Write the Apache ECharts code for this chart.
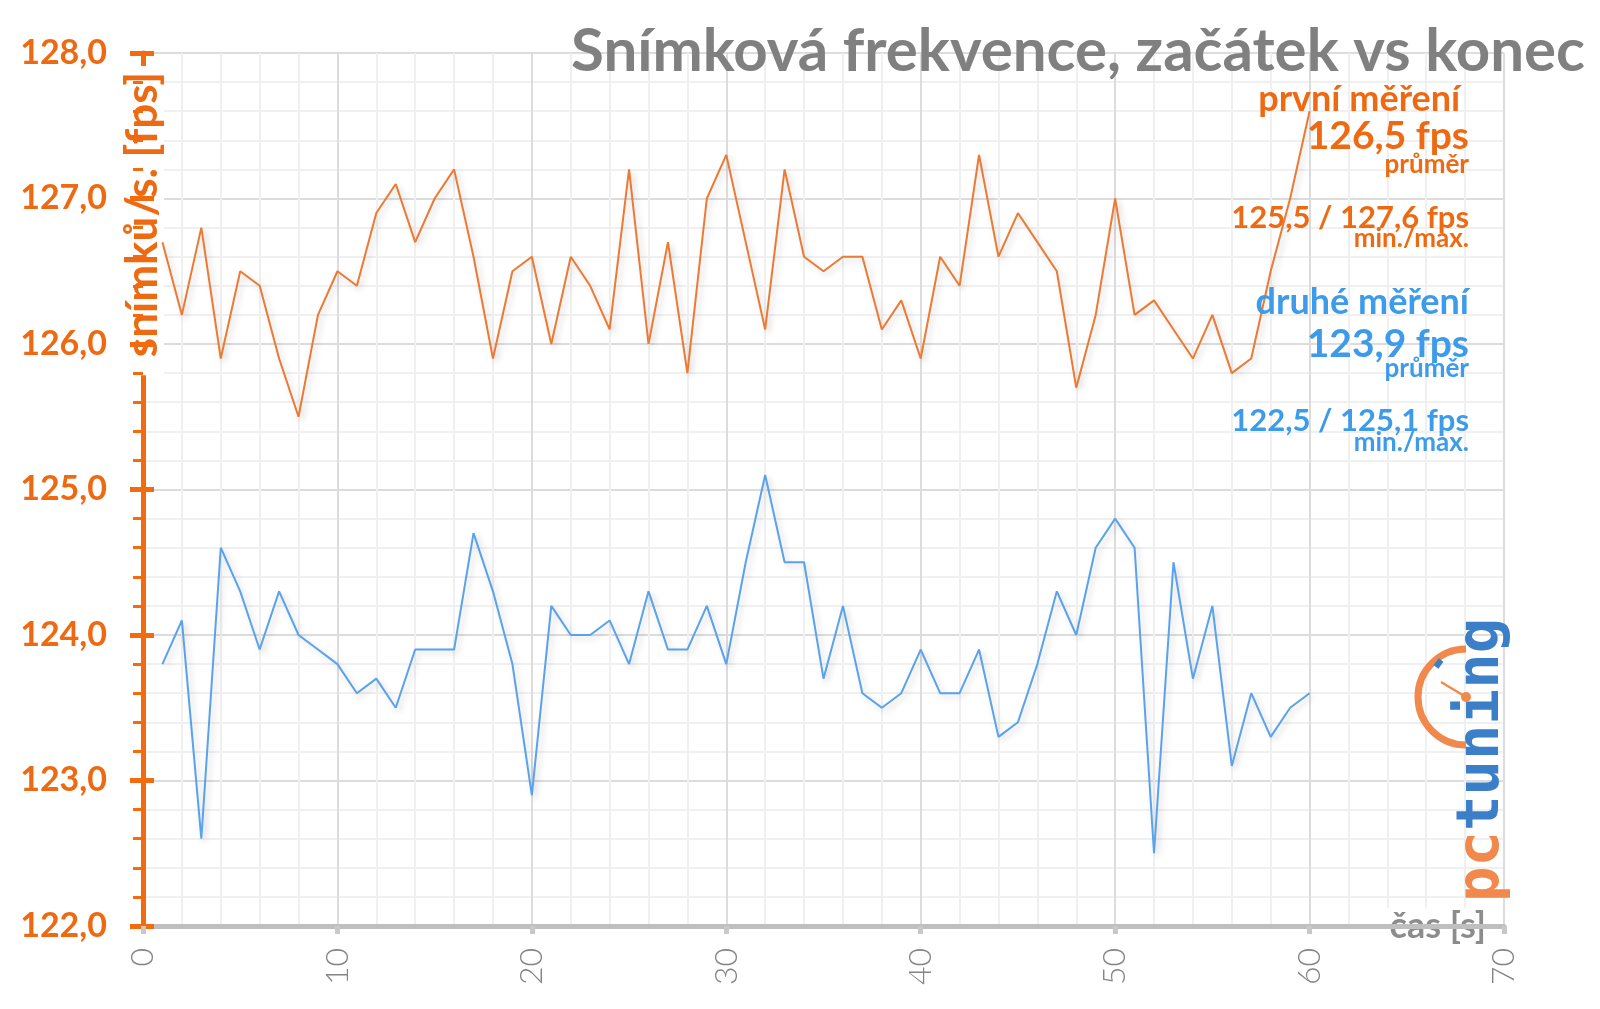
<!DOCTYPE html>
<html>
<head>
<meta charset="utf-8">
<title>Snímková frekvence, začátek vs konec</title>
<script src="https://cdn.jsdelivr.net/npm/echarts@6/dist/echarts.min.js"></script>
<style>
	html, body { margin: 0; padding: 0; background: #ffffff; }
	#chart { width: 1600px; height: 1009px; }
</style>
</head>
<body>
<div id="chart"></div>
<script>
// time in seconds
var seconds = [1, 2, 3, 4, 5, 6, 7, 8, 9, 10,
	11, 12, 13, 14, 15, 16, 17, 18, 19, 20,
	21, 22, 23, 24, 25, 26, 27, 28, 29, 30,
	31, 32, 33, 34, 35, 36, 37, 38, 39, 40,
	41, 42, 43, 44, 45, 46, 47, 48, 49, 50,
	51, 52, 53, 54, 55, 56, 57, 58, 59, 60];

// první měření [fps]
var firstRun = [126.7, 126.2, 126.8, 125.9, 126.5, 126.4, 125.9, 125.5, 126.2, 126.5,
	126.4, 126.9, 127.1, 126.7, 127.0, 127.2, 126.6, 125.9, 126.5, 126.6,
	126.0, 126.6, 126.4, 126.1, 127.2, 126.0, 126.7, 125.8, 127.0, 127.3,
	126.7, 126.1, 127.2, 126.6, 126.5, 126.6, 126.6, 126.1, 126.3, 125.9,
	126.6, 126.4, 127.3, 126.6, 126.9, 126.7, 126.5, 125.7, 126.2, 127.0,
	126.2, 126.3, 126.1, 125.9, 126.2, 125.8, 125.9, 126.5, 127.0, 127.6];

// druhé měření [fps]
var secondRun = [123.8, 124.1, 122.6, 124.6, 124.3, 123.9, 124.3, 124.0, 123.9, 123.8,
	123.6, 123.7, 123.5, 123.9, 123.9, 123.9, 124.7, 124.3, 123.8, 122.9,
	124.2, 124.0, 124.0, 124.1, 123.8, 124.3, 123.9, 123.9, 124.2, 123.8,
	124.5, 125.1, 124.5, 124.5, 123.7, 124.2, 123.6, 123.5, 123.6, 123.9,
	123.6, 123.6, 123.9, 123.3, 123.4, 123.8, 124.3, 124.0, 124.6, 124.8,
	124.6, 122.5, 124.5, 123.7, 124.2, 123.1, 123.6, 123.3, 123.5, 123.6];

var firstLabels = ['první měření ', '126,5 fps', 'průměr', '125,5 / 127,6 fps', 'min./max.'];
var secondLabels = ['druhé měření', '123,9 fps', 'průměr', '122,5 / 125,1 fps', 'min./max.'];

var FONT = 'Lato, "Open Sans", sans-serif';
var ORANGE = '#ee6a12';
var ORANGE_LINE = '#ec7a33';
var BLUE = '#3d9be9';
var BLUE_LINE = '#5aa2ec';
var GRAY = '#808080';

var myChart = echarts.init(document.getElementById('chart'));

function pairs(values) {
	var out = [];
	for (var i = 0; i < values.length; i++) {
		out.push([seconds[i], values[i]]);
	}
	return out;
}

// texts of the info block on the right: baseline y, font size
var infoRows = [
	[112, 36], [150, 39], [174, 26], [229, 31], [248, 26]
];
var infoRows2 = [
	[315, 36], [358, 39], [378, 26], [432, 31], [452, 26]
];

function infoText(text, baseline, size, color) {
	return {
		type: 'text',
		z: 100,
		x: 1469,
		y: baseline - size * 0.35,
		style: {
			text: text,
			fontFamily: FONT,
			fontWeight: 'bold',
			fontSize: size,
			fill: color,
			align: 'right',
			verticalAlign: 'middle'
		}
	};
}

function buildGraphic() {
	var items = [];
	for (var i = 0; i < firstLabels.length; i++) {
		items.push(infoText(firstLabels[i], infoRows[i][0], infoRows[i][1], ORANGE));
	}
	for (var j = 0; j < secondLabels.length; j++) {
		items.push(infoText(secondLabels[j], infoRows2[j][0], infoRows2[j][1], BLUE));
	}

	// pctuning logo
	items.push({
		type: 'arc',
		z: 100,
		shape: { cx: 1466, cy: 697, r: 48, startAngle: Math.PI / 2, endAngle: Math.PI * 1.5, clockwise: true },
		style: { stroke: '#f2894c', lineWidth: 7, fill: null }
	});
	items.push({
		type: 'line',
		z: 101,
		shape: { x1: 1436, y1: 667, x2: 1441, y2: 660 },
		style: { stroke: '#3b7fc9', lineWidth: 6 }
	});
	items.push({
		type: 'line',
		z: 101,
		shape: { x1: 1466, y1: 697, x2: 1441, y2: 682 },
		style: { stroke: '#f2894c', lineWidth: 2.5 }
	});
	items.push({
		type: 'circle',
		z: 101,
		shape: { cx: 1466, cy: 697, r: 5 },
		style: { fill: '#f2894c' }
	});
	items.push({
		type: 'text',
		z: 100,
		x: 1512,
		y: 902,
		rotation: Math.PI / 2,
		style: {
			text: '{pc|pc}{tu|tuning}',
			align: 'left',
			verticalAlign: 'bottom',
			rich: {
				pc: { fontFamily: '"DejaVu Sans Mono", monospace', fontWeight: 'bold', fontSize: 59, fill: '#f2894c' },
				tu: { fontFamily: '"DejaVu Sans Mono", monospace', fontWeight: 'bold', fontSize: 59, fill: '#3b7fc9' }
			}
		}
	});
	return items;
}

var yLabel = function (value) {
	return value.toFixed(1).replace('.', ',');
};

var chartOption = {
	animation: false,
	backgroundColor: '#ffffff',
	title: {
		text: 'Snímková frekvence, začátek vs konec',
		right: 10,
		top: 17,
		textStyle: {
			fontFamily: FONT,
			fontWeight: 'bold',
			fontSize: 60,
			color: GRAY
		}
	},
	grid: {
		left: 143,
		right: 96,
		top: 53,
		bottom: 83
	},
	xAxis: {
		type: 'value',
		min: 0,
		max: 70,
		interval: 10,
		name: 'čas [s]',
		nameLocation: 'end',
		nameGap: -14,
		nameTextStyle: {
			fontFamily: FONT,
			fontWeight: 'bold',
			fontSize: 36,
			color: '#8c8c8c',
			align: 'right',
			verticalAlign: 'middle',
			backgroundColor: '#ffffff',
			padding: [0, 4, 0, 4]
		},
		axisLine: { lineStyle: { color: '#bfbfbf', width: 5 } },
		axisTick: { length: 8, lineStyle: { color: '#c8c8c8', width: 5 } },
		minorTick: { show: false, splitNumber: 5 },
		axisLabel: {
			rotate: 90,
			margin: 22,
			fontFamily: FONT,
			fontWeight: 300,
			fontSize: 32,
			color: '#858585'
		},
		splitLine: { show: true, showMinLine: false, lineStyle: { color: '#dcdcdc', width: 2 } },
		minorSplitLine: { show: true, lineStyle: { color: '#f0f0f0', width: 2 } }
	},
	yAxis: [
		{
			type: 'value',
			position: 'left',
			min: 122,
			max: 128,
			interval: 1,
			axisLine: { show: true, lineStyle: { color: '#f26b0f', width: 5 } },
			axisTick: { show: true, length: 13, lineStyle: { color: '#f26b0f', width: 5 } },
			minorTick: { show: true, splitNumber: 5, length: 10, lineStyle: { color: '#f26b0f', width: 3 } },
			axisLabel: {
				margin: 36,
				fontFamily: FONT,
				fontWeight: 'bold',
				fontSize: 34,
				color: ORANGE,
				formatter: yLabel
			},
			splitLine: { show: true, showMinLine: false, lineStyle: { color: '#dcdcdc', width: 2 } },
			minorSplitLine: { show: true, lineStyle: { color: '#f0f0f0', width: 2 } }
		},
		{
			// inner half of the major ticks and the axis name
			type: 'value',
			position: 'left',
			offset: 0,
			min: 122,
			max: 128,
			interval: 1,
			name: 'snímků/s. [fps]',
			nameLocation: 'end',
			nameRotate: 90,
			nameGap: -13,
			nameTextStyle: {
				fontFamily: FONT,
				fontWeight: 'bold',
				fontSize: 44,
				lineHeight: 34,
				color: ORANGE,
				align: 'right',
				verticalAlign: 'middle',
				backgroundColor: '#ffffff',
				padding: [0, 6, 8, 18]
			},
			axisLine: { show: false },
			axisTick: { show: true, inside: true, length: 11, lineStyle: { color: '#f26b0f', width: 5 } },
			axisLabel: { show: false },
			splitLine: { show: false }
		}
	],
	series: [
		{
			name: 'první měření',
			type: 'line',
			data: pairs(firstRun),
			showSymbol: false,
			lineStyle: {
				color: ORANGE_LINE,
				width: 2,
				shadowColor: 'rgba(0,0,0,0.18)',
				shadowBlur: 6,
				shadowOffsetX: 3,
				shadowOffsetY: 3
			}
		},
		{
			name: 'druhé měření',
			type: 'line',
			data: pairs(secondRun),
			showSymbol: false,
			lineStyle: {
				color: BLUE_LINE,
				width: 2,
				shadowColor: 'rgba(0,0,0,0.18)',
				shadowBlur: 6,
				shadowOffsetX: 3,
				shadowOffsetY: 3
			}
		}
	],
	graphic: buildGraphic()
};

myChart.setOption(chartOption);
</script>
</body>
</html>
